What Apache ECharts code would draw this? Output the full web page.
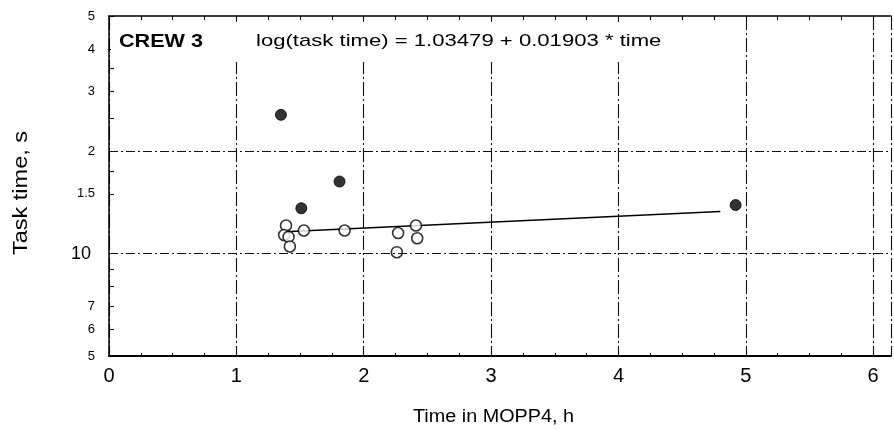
<!DOCTYPE html>
<html><head><meta charset="utf-8">
<script src="https://cdn.jsdelivr.net/npm/echarts@6/dist/echarts.min.js"></script>
<style>html,body{margin:0;padding:0;background:#fff}#c{width:894px;height:430px}</style>
</head><body><div id="c"></div>
<script>
// Open circles (time in MOPP4, h ; task time, s)
const openX = [1.39, 1.375, 1.41, 1.42, 1.53, 1.85, 2.27, 2.26, 2.41, 2.42];
const openY = [12.1, 11.35, 11.2, 10.5, 11.7, 11.7, 11.5, 10.1, 12.1, 11.1];
// Filled points
const filledX = [1.35, 1.81, 1.51, 4.92];
const filledY = [25.6, 16.3, 13.6, 13.9];
// Regression line endpoints
const fitX = [1.38, 4.80];
const fitY = [11.6, 13.3];
// Axis ticks / labels (as printed)
const yTickValues = [5, 6, 7, 10, 15, 20, 30, 40, 50];
const yTickLabels = ['5', '6', '7', '10', '1.5', '2', '3', '4', '5'];
const yMinorTickValues = [5, 6, 7, 8, 9, 10, 15, 17.5, 20, 25, 30, 35, 40, 50];
const yGridValues = [10, 20];
const xTickLabels = ['0', '1', '2', '3', '4', '5', '6'];

const FONT = '"Liberation Sans", Arial, sans-serif';
const chart = echarts.init(document.getElementById('c'), null, {renderer: 'canvas'});
const pair = (xs, ys) => xs.map((x, i) => [x, ys[i]]);

chart.setOption({
  backgroundColor: '#fff',
  animation: false,
  grid: {left: 109, right: 0, top: 16, bottom: 74, containLabel: false},
  xAxis: [{
    type: 'value', min: 0, max: 6.14, interval: 1,
    axisLine: {show: true, lineStyle: {color: '#000', width: 2}},
    axisTick: {show: true, inside: true, length: 5, lineStyle: {color: '#000'}},
    minorTick: {show: true, splitNumber: 4, length: 3, lineStyle: {color: '#000'}},
    splitLine: {show: true, lineStyle: {color: '#111', width: 1.1, type: [14, 3, 2, 3]}},
    axisLabel: {
      color: '#000', fontFamily: FONT, fontSize: 20, margin: 10,
      formatter: v => {
        const i = Math.round(v);
        return Math.abs(v - i) < 1e-6 && xTickLabels[i] !== undefined ? xTickLabels[i] : '';
      }
    }
  }, {
    type: 'value', position: 'top', min: 0, max: 6.14, interval: 1,
    axisLine: {show: true, lineStyle: {color: '#000', width: 1.5}},
    axisTick: {show: true, inside: true, length: 5, lineStyle: {color: '#000'}},
    minorTick: {show: true, splitNumber: 4, length: 4, lineStyle: {color: '#000'}},
    splitLine: {show: false},
    axisLabel: {show: false}
  }],
  yAxis: {
    type: 'log', logBase: 10, min: 5, max: 50,
    axisLine: {show: true, lineStyle: {color: '#000', width: 1.5}},
    axisTick: {show: true, inside: true, length: 5, lineStyle: {color: '#000'}, customValues: yMinorTickValues},
    minorTick: {show: false},
    splitLine: {show: false},
    axisLabel: {
      color: '#000', fontFamily: FONT, fontSize: 13, margin: 14,
      customValues: yTickValues,
      formatter: v => {
        let best = 0, bd = Infinity;
        yTickValues.forEach((t, i) => { const d = Math.abs(Math.log(t) - Math.log(v)); if (d < bd) { bd = d; best = i; } });
        const s = yTickLabels[best];
        return s === '10' ? '{big|10}' : s;
      },
      rich: {big: {fontSize: 18, fontFamily: FONT, color: '#000', padding: [0, 4, 0, 0]}}
    }
  },
  series: [{
    type: 'line', data: pair(fitX, fitY), symbol: 'none',
    lineStyle: {color: '#000', width: 1.6}, z: 3,
    markLine: {
      silent: true, symbol: 'none', label: {show: false},
      lineStyle: {color: '#111', width: 1.1, type: [9, 3, 2, 3]},
      data: yGridValues.map(v => ({yAxis: v}))
    }
  }, {
    type: 'scatter', data: pair(openX, openY), symbol: 'circle', symbolSize: 11,
    itemStyle: {color: '#fff', borderColor: '#000', borderWidth: 1.6}, z: 4
  }, {
    type: 'scatter', data: pair(filledX, filledY), symbol: 'circle', symbolSize: 11,
    itemStyle: {color: '#000', borderColor: '#000', borderWidth: 1}, z: 5
  }],
  graphic: [
    {type: 'rect', z: 9, shape: {x: 111, y: 22, width: 560, height: 40}, style: {fill: '#fff'}},
    {type: 'text', z: 10, x: 119, y: 42, scaleX: 1.2,
      style: {text: 'CREW 3', fontFamily: FONT, fontSize: 18, fontWeight: 'bold', fill: '#000', align: 'left', verticalAlign: 'middle'}},
    {type: 'text', z: 10, x: 256, y: 41, scaleX: 1.3,
      style: {text: 'log(task time) = 1.03479 + 0.01903 * time', fontFamily: FONT, fontSize: 17, fill: '#000', align: 'left', verticalAlign: 'middle'}},
    {type: 'text', z: 10, x: 413, y: 417, scaleX: 1.1,
      style: {text: 'Time in MOPP4, h', fontFamily: FONT, fontSize: 18, fill: '#000', align: 'left', verticalAlign: 'middle'}},
    {type: 'text', z: 10, x: 21, y: 193, rotation: Math.PI / 2, scaleX: 1.12,
      style: {text: 'Task time, s', fontFamily: FONT, fontSize: 21, fill: '#000', align: 'center', verticalAlign: 'middle'}}
  ]
});
</script>
</body></html>
